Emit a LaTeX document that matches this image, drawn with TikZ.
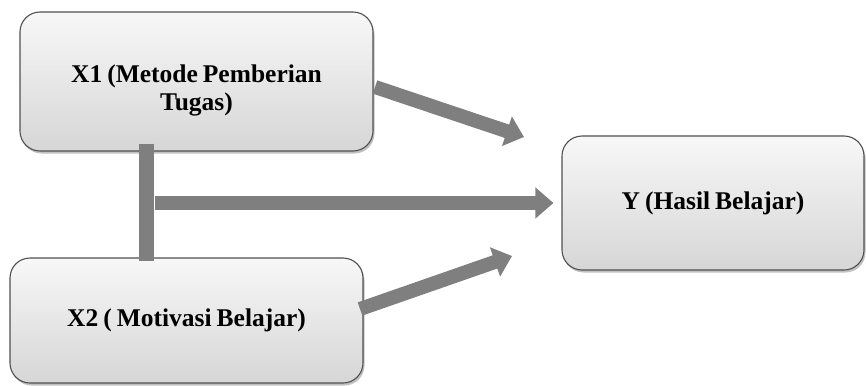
\documentclass[tikz,border=0pt]{standalone}
\usepackage{fontspec}
\setmainfont{Liberation Serif}
\usetikzlibrary{arrows.meta,shadows,calc}
\definecolor{arrowgray}{HTML}{7F7F7F}
\definecolor{boxline}{HTML}{505050}
\newcommand\myboxfont{\bfseries\fontsize{25.5}{28}\selectfont\spaceskip=5pt plus 1pt minus 1pt\relax}
\tikzset{
  varbox/.style={draw=boxline, line width=1.1pt, rounded corners=20pt,
    top color=gray!6, bottom color=gray!32, align=center,
    font=\myboxfont, inner sep=0pt,
    drop shadow={shadow xshift=1.5pt, shadow yshift=-2.5pt, opacity=.35, fill=black!70}},
  fatline/.style={draw=arrowgray, line width=14pt},
  fatarrow/.style={fatline, -{Triangle[width=30pt,length=18pt]}},
}
\begin{document}
\begin{tikzpicture}[x=1pt,y=-1pt]
\useasboundingbox (0,0) rectangle (866,385);
\node[varbox, minimum width=353pt, minimum height=139pt] (x1) at (196.5,81.5) {\rule{0pt}{35pt}X1 (Metode Pemberian\\Tugas)};
\node[varbox, minimum width=353pt, minimum height=125pt] (x2) at (186.5,320.5) {X2 ( Motivasi Belajar)};
\node[varbox, minimum width=302pt, minimum height=134pt] (y) at (713,203) {Y (Hasil Belajar)};
\coordinate (v1) at ($(x1.south west)+(127,-8)$);
\coordinate (v2) at ($(x2.north west)+(137,4)$);
\coordinate (h1) at (155,203);
\coordinate (a1s) at (375,87);
\coordinate (a1e) at (524,137);
\coordinate (a3s) at (360,309);
\coordinate (a3e) at (512,256);
\draw[fatline, line width=15pt] (v1) -- (v2);
\draw[fatarrow] (h1) -- ($(y.west)+(-8,0)$);
\draw[fatarrow] (a1s) -- (a1e);
\draw[fatarrow] (a3s) -- (a3e);
\end{tikzpicture}
\end{document}
